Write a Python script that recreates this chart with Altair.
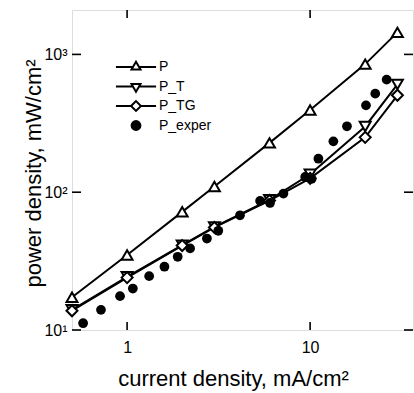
import altair as alt
import pandas as pd

# ---- data ----
x_model = [0.5, 1, 2, 3, 6, 10, 20, 30]
p_vals = [17.3, 35, 72, 110, 228, 395, 850, 1445]
pt_vals = [14.0, 24.3, 41.3, 56, 88, 135, 300, 606]
ptg_vals = [13.8, 24.0, 41.0, 55.5, 87, 126, 250, 505]

exper_x = [0.575, 0.72, 0.915, 1.075, 1.32, 1.6, 1.89, 2.21, 2.73, 3.15, 4.14,
           5.33, 6.04, 7.15, 9.4, 10.2, 11.1, 13.4, 15.9, 20.2, 22.7, 26.2]
exper_y = [11.2, 14.0, 17.6, 20.0, 24.6, 28.8, 34.0, 39.1, 46.1, 52.5, 68,
           86.5, 83.5, 97.7, 129, 125, 175, 234, 301, 427, 519, 656]

series_names = ["P", "P_T", "P_TG", "P_exper"]
x_ticks = [1, 10]
y_ticks = [10, 100, 1000]
y_tick_labels = ["10¹", "10²", "10³"]

FONT = "Liberation Sans"

model_df = pd.DataFrame({
    "x": x_model * 3,
    "y": p_vals + pt_vals + ptg_vals,
    "series": ["P"] * len(x_model) + ["P_T"] * len(x_model) + ["P_TG"] * len(x_model),
})
exper_df = pd.DataFrame({"x": exper_x, "y": exper_y, "series": "P_exper"})

xscale = alt.Scale(type="log", domain=[0.5, 36.5], nice=False)
yscale = alt.Scale(type="log", domain=[10, 2100], nice=False)

label_expr = " : ".join(
    f"datum.value == {v} ? '{l}'" for v, l in zip(y_ticks[:-1], y_tick_labels[:-1])
) + f" : '{y_tick_labels[-1]}'"

x_enc = alt.X(
    "x:Q", scale=xscale,
    axis=alt.Axis(values=x_ticks, format="~g", ticks=False, domain=False, grid=False,
                  labelFontSize=16, labelPadding=9, labelColor="black",
                  title="current density, mA/cm²", titleFontSize=22,
                  titleFontWeight="normal", titleX=161, titleY=48,
                  titleAlign="center", titleBaseline="middle", titleColor="black"),
)
y_enc = alt.Y(
    "y:Q", scale=yscale,
    axis=alt.Axis(values=y_ticks, labelExpr=label_expr, ticks=False, domain=False,
                  grid=False, labelFontSize=16, labelPadding=5, labelColor="black",
                  title="power density, mW/cm²", titleFontSize=22,
                  titleFontWeight="normal", titleX=-39, titleY=163,
                  titleAlign="center", titleBaseline="middle", titleColor="black"),
)

lines = alt.Chart(model_df).mark_line(color="black", strokeWidth=2).encode(
    x=x_enc, y=y_enc, detail="series:N"
)

def markers(name, shape, size):
    return alt.Chart(model_df).transform_filter(
        alt.datum.series == name
    ).mark_point(shape=shape, size=size, filled=True, fill="white",
                 stroke="black", strokeWidth=2, opacity=1).encode(x="x:Q", y="y:Q")

m_p = markers("P", "triangle-up", 120)
m_pt = markers("P_T", "triangle-down", 120)
m_ptg = markers("P_TG", "diamond", 121)

dots = alt.Chart(exper_df).mark_circle(color="black", size=95, opacity=1).encode(
    x="x:Q", y="y:Q"
)

# inward ticks on all four sides
xt_df = pd.DataFrame({"x": x_ticks})
yt_df = pd.DataFrame({"y": y_ticks})
tick_w = 1.6
t_bottom = alt.Chart(xt_df).mark_rule(color="black", strokeWidth=tick_w).encode(
    x="x:Q", y=alt.value(320), y2=alt.value(312))
t_top = alt.Chart(xt_df).mark_rule(color="black", strokeWidth=tick_w).encode(
    x="x:Q", y=alt.value(0), y2=alt.value(8))
t_left = alt.Chart(yt_df).mark_rule(color="black", strokeWidth=tick_w).encode(
    y="y:Q", x=alt.value(0), x2=alt.value(9))
t_right = alt.Chart(yt_df).mark_rule(color="black", strokeWidth=tick_w).encode(
    y="y:Q", x=alt.value(341), x2=alt.value(332))

# legend (line + marker symbols)
legend_paths = [
    "M-3.65,0H-0.55M0.55,0H3.65M0,-0.95L0.82,0.47L-0.82,0.47Z",
    "M-3.65,0H-0.55M0.55,0H3.65M0,0.95L0.82,-0.47L-0.82,-0.47Z",
    "M-3.65,0H-0.9M0.9,0H3.65M-0.9,0L0,-0.9L0.9,0L0,0.9Z",
    "M-0.8,0A0.8,0.8 0 1,0 0.8,0A0.8,0.8 0 1,0 -0.8,0Z",
]
legend_fills = ["white", "white", "white", "black"]
legend_strokes = ["black", "black", "black", "black"]
leg_df = pd.DataFrame({"series": series_names, "x": [1] * 4, "y": [100] * 4})
legend_layer = alt.Chart(leg_df).transform_filter("false").mark_point(
    strokeWidth=2
).encode(
    x="x:Q", y="y:Q",
    shape=alt.Shape("series:N", scale=alt.Scale(domain=series_names, range=legend_paths),
                    legend=alt.Legend(title=None)),
    fill=alt.Fill("series:N", scale=alt.Scale(domain=series_names, range=legend_fills),
                  legend=alt.Legend(title=None)),
    stroke=alt.Stroke("series:N", scale=alt.Scale(domain=series_names, range=legend_strokes),
                      legend=alt.Legend(title=None)),
)

chart = alt.layer(
    lines, m_pt, m_ptg, m_p, dots, t_bottom, t_top, t_left, t_right, legend_layer
).properties(
    width=341, height=320,
    autosize=alt.AutoSizeParams(type="none"),
    padding={"left": 72, "top": 10, "right": 1, "bottom": 63},
    background="white",
).configure_view(
    stroke="black", strokeWidth=2
).configure(
    font=FONT
).configure_legend(
    orient="none", legendX=57, legendY=50,
    labelFont=FONT, labelFontSize=14, labelColor="black", labelOffset=16,
    symbolSize=121, symbolStrokeWidth=2,
    symbolOpacity=1, rowPadding=0.5, padding=0, gridAlign="all",
)

chart.save("out.html", embed_options={"renderer": "svg", "actions": False})
